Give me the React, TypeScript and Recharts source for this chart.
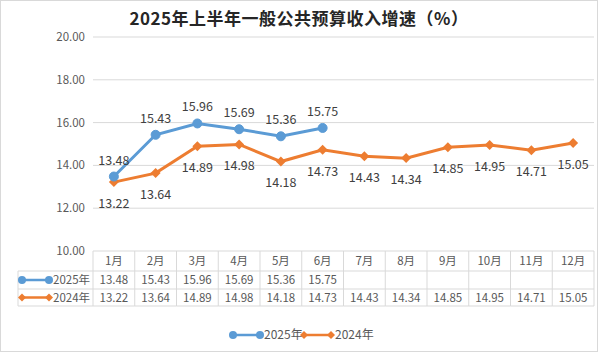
import React from "react";
import { LineChart, Line, XAxis, YAxis, CartesianGrid, LabelList } from "recharts";

const months = ["1月", "2月", "3月", "4月", "5月", "6月", "7月", "8月", "9月", "10月", "11月", "12月"];
const growth2025 = [13.48, 15.43, 15.96, 15.69, 15.36, 15.75, null, null, null, null, null, null];
const growth2024 = [13.22, 13.64, 14.89, 14.98, 14.18, 14.73, 14.43, 14.34, 14.85, 14.95, 14.71, 15.05];
const yTicks = [10, 12, 14, 16, 18, 20];

const data = months.map((m, i) => ({ month: m, y2025: growth2025[i], y2024: growth2024[i] }));

const BLUE = "#5b9bd5";
const ORANGE = "#ed7d31";
const GRID = "#d9d9d9";
const TEXT = "#595959";
const FONT = "'Noto Sans CJK SC', 'Noto Sans', sans-serif";

const W = 596;
const H = 350;
const PLOT_LEFT = 92;
const PLOT_RIGHT = 3;
const COL = (W - PLOT_LEFT - PLOT_RIGHT) / months.length;

function Diamond({ cx, cy, r = 4, fill }: any) {
  if (cx == null || cy == null) return null;
  return <polygon points={`${cx},${cy - r} ${cx + r},${cy} ${cx},${cy + r} ${cx - r},${cy}`} fill={fill} />;
}

function LegendIcon({ x, y, color, kind }: any) {
  return (
    <g>
      <line x1={x + 3} y1={y} x2={x + 32} y2={y} stroke={color} strokeWidth={2.5} />
      {kind === "circle" ? (
        <>
          <circle cx={x + 4} cy={y} r={4} fill={color} />
          <circle cx={x + 31} cy={y} r={4} fill={color} />
        </>
      ) : (
        <>
          <Diamond cx={x + 4} cy={y} r={4} fill={color} />
          <Diamond cx={x + 31} cy={y} r={4} fill={color} />
        </>
      )}
    </g>
  );
}

// x axis ticks draw the data table columns
function TableTick(props: any) {
  const { x, y, payload } = props;
  const i = payload.index;
  const left = x - COL / 2;
  const right = x + COL / 2;
  const top = y;
  const r1 = top + 20;
  const r2 = top + 38;
  const r3 = top + 55;
  const v25 = growth2025[i];
  const v24 = growth2024[i];
  return (
    <g fontFamily={FONT} fontSize={11.5} fill={TEXT}>
      {i === 0 && (
        <g>
          <line x1={left} y1={top} x2={left} y2={r3} stroke={GRID} />
          <line x1={17} y1={r1} x2={left} y2={r1} stroke={GRID} />
          <line x1={17} y1={r2} x2={left} y2={r2} stroke={GRID} />
          <line x1={17} y1={r3} x2={left} y2={r3} stroke={GRID} />
          <line x1={17} y1={r1} x2={17} y2={r3} stroke={GRID} />
          <LegendIcon x={17} y={(r1 + r2) / 2} color={BLUE} kind="circle" />
          <text x={52} y={(r1 + r2) / 2 + 4} fill={TEXT}>2025年</text>
          <LegendIcon x={17} y={(r2 + r3) / 2} color={ORANGE} kind="diamond" />
          <text x={52} y={(r2 + r3) / 2 + 4} fill={TEXT}>2024年</text>
        </g>
      )}
      <line x1={right} y1={top} x2={right} y2={r3} stroke={GRID} />
      <line x1={left} y1={r1} x2={right} y2={r1} stroke={GRID} />
      <line x1={left} y1={r2} x2={right} y2={r2} stroke={GRID} />
      <line x1={left} y1={r3} x2={right} y2={r3} stroke={GRID} />
      <text x={x} y={top + 14} textAnchor="middle" fill={TEXT}>{payload.value}</text>
      {v25 != null && (
        <text x={x} y={(r1 + r2) / 2 + 4} textAnchor="middle" fill={TEXT}>{v25.toFixed(2)}</text>
      )}
      {v24 != null && (
        <text x={x} y={(r2 + r3) / 2 + 4} textAnchor="middle" fill={TEXT}>{v24.toFixed(2)}</text>
      )}
    </g>
  );
}

export default function App() {
  return (
    <div
      style={{
        position: "absolute",
        left: 0,
        top: 0,
        width: 598,
        height: 352,
        boxSizing: "border-box",
        border: `1px solid ${GRID}`,
        background: "#fff",
        fontFamily: FONT,
      }}
    >
      <div
        style={{
          position: "absolute",
          left: 0,
          top: 4,
          width: W,
          textAlign: "center",
          fontSize: 17,
          fontWeight: "bold",
          color: "#262626",
          fontFamily: "'Noto Sans CJK SC', serif",
          letterSpacing: 0.5,
        }}
      >
        2025年上半年一般公共预算收入增速（%）
      </div>
      <LineChart width={W} height={H} data={data} margin={{ top: 36, right: PLOT_RIGHT, bottom: 0, left: 0 }}>
        <CartesianGrid vertical={false} stroke={GRID} />
        <XAxis
          dataKey="month"
          height={100}
          axisLine={false}
          tickLine={false}
          tickSize={0}
          tickMargin={0}
          interval={0}
          padding={{ left: COL / 2, right: COL / 2 }}
          tick={<TableTick />}
        />
        <YAxis
          width={PLOT_LEFT}
          domain={[10, 20]}
          ticks={yTicks}
          axisLine={false}
          tickLine={false}
          tickSize={0}
          tickMargin={8}
          tickFormatter={(v: number) => v.toFixed(2)}
          tick={{ fill: TEXT, fontSize: 11.5, fontFamily: FONT }}
        />
        <Line
          dataKey="y2024"
          stroke={ORANGE}
          strokeWidth={3}
          dot={(p: any) => <Diamond key={`d${p.index}`} cx={p.cx} cy={p.cy} r={5} fill={ORANGE} />}
          activeDot={false}
          isAnimationActive={false}
        >
          <LabelList
            dataKey="y2024"
            position="bottom"
            offset={17}
            formatter={(v: any) => (v == null ? "" : Number(v).toFixed(2))}
            style={{ fill: "#404040", fontSize: 12.5, fontFamily: FONT }}
          />
        </Line>
        <Line
          dataKey="y2025"
          stroke={BLUE}
          strokeWidth={3}
          dot={{ r: 4.5, fill: BLUE, stroke: BLUE, strokeWidth: 1 }}
          activeDot={false}
          connectNulls={false}
          isAnimationActive={false}
        >
          <LabelList
            dataKey="y2025"
            position="top"
            offset={12}
            formatter={(v: any) => (v == null ? "" : Number(v).toFixed(2))}
            style={{ fill: "#404040", fontSize: 12.5, fontFamily: FONT }}
          />
        </Line>
      </LineChart>
      <svg
        style={{ position: "absolute", left: 0, top: 322 }}
        width={W}
        height={24}
        fontFamily={FONT}
        fontSize={12}
      >
        <LegendIcon x={228} y={12} color={BLUE} kind="circle" />
        <text x={263} y={16} fill={TEXT}>2025年</text>
        <LegendIcon x={299} y={12} color={ORANGE} kind="diamond" />
        <text x={334} y={16} fill={TEXT}>2024年</text>
      </svg>
    </div>
  );
}
